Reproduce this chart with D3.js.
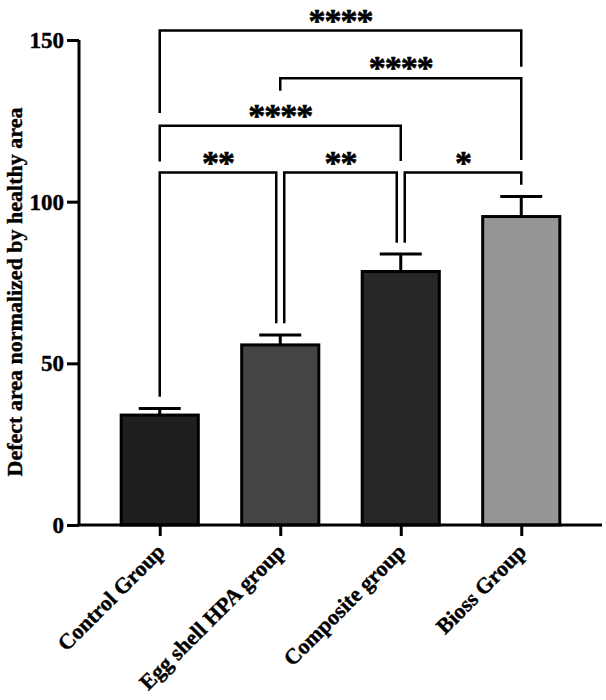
<!DOCTYPE html>
<html>
<head>
<meta charset="utf-8">
<script src="https://cdn.jsdelivr.net/npm/d3@7"></script>
<style>
  body { margin: 0; background: #fff; }
  svg { display: block; }
</style>
</head>
<body>
<script>
// ---- data ----
const categories = ["Control Group", "Egg shell HPA group", "Composite group", "Bioss Group"];
const means = [34.0, 55.7, 78.4, 95.4];
const sems = [2.0, 3.1, 5.4, 6.2];
const barColors = ["#1f1f1f", "#444444", "#272727", "#969696"];
const yTicks = [0, 50, 100, 150];
const yLabel = "Defect area normalized by healthy area";
// significance comparisons: group indices, label, bracket height, leg end heights (data units)
const compA = [0, 1, 0, 0, 1, 2];
const compB = [3, 3, 2, 1, 2, 3];
const compLabel = ["****", "****", "****", "**", "**", "*"];
const compY = [152.9, 138.2, 123.5, 109.0, 109.0, 109.0];
const compLegA = [127.4, 134.3, 112.4, 39.7, 62.4, 87.3];
const compLegB = [141.7, 112.9, 112.6, 62.4, 87.3, 105.2];
const compInsetA = [0, 0, 0, 0, 1, 1];
const compInsetB = [0, 0, 0, 1, 1, 0];

// ---- layout ----
const W = 606, H = 700;
const axisX = 79, axisY = 525, axisRight = 602;
const svg = d3.select("body").append("svg").attr("width", W).attr("height", H);

const y = d3.scaleLinear().domain([0, 150]).range([axisY, 40]);
const x = d3.scalePoint().domain(categories).range([axisX, axisRight]).padding(0.67);
const barW = x.step() * 0.64;
const serif = "'Liberation Serif', 'Times New Roman', serif";

// bars
svg.append("g").selectAll("rect").data(categories).join("rect")
  .attr("x", (d) => x(d) - barW / 2)
  .attr("y", (d, i) => y(means[i]))
  .attr("width", barW)
  .attr("height", (d, i) => y(0) - y(means[i]))
  .attr("fill", (d, i) => barColors[i])
  .attr("stroke", "#000")
  .attr("stroke-width", 3);

// error bars (upper only)
const eb = svg.append("g").attr("stroke", "#000").attr("stroke-width", 3);
categories.forEach((c, i) => {
  eb.append("line").attr("x1", x(c)).attr("x2", x(c))
    .attr("y1", y(means[i])).attr("y2", y(means[i] + sems[i]));
  eb.append("line").attr("x1", x(c) - 21).attr("x2", x(c) + 21)
    .attr("y1", y(means[i] + sems[i])).attr("y2", y(means[i] + sems[i]));
});

// y axis
const yAxis = svg.append("g").attr("transform", `translate(${axisX},0)`)
  .call(d3.axisLeft(y).tickValues(yTicks).tickSize(12).tickPadding(3).tickFormat(d3.format("d")));
yAxis.select(".domain").attr("d", `M0,${y(150)}V${axisY}`).attr("stroke-width", 3);
yAxis.selectAll(".tick line").attr("stroke-width", 3);
yAxis.selectAll(".tick text").attr("font-family", serif).attr("font-weight", "bold")
  .attr("font-size", 23).attr("fill", "#000")
  .attr("stroke", "#000").attr("stroke-width", 0.4);

// x axis
const xAxis = svg.append("g").attr("transform", `translate(0,${axisY})`)
  .call(d3.axisBottom(x).tickSize(11).tickFormat(""));
xAxis.select(".domain").attr("d", `M${axisX - 1.5},0H${axisRight}`).attr("stroke-width", 3);
xAxis.selectAll(".tick line").attr("stroke-width", 3);

// x labels rotated
svg.append("g").selectAll("text").data(categories).join("text")
  .attr("transform", (d) => `translate(${x(d) - 5},${axisY + 17}) rotate(-45)`)
  .attr("text-anchor", "end")
  .attr("dy", "0.71em")
  .attr("font-family", serif).attr("font-weight", "bold").attr("font-size", 22)
  .attr("fill", "#000")
  .attr("stroke", "#000").attr("stroke-width", 0.4)
  .text((d) => d);

// y label
svg.append("text")
  .attr("transform", `translate(22,292) rotate(-90)`)
  .attr("text-anchor", "middle")
  .attr("font-family", serif).attr("font-weight", "bold").attr("font-size", 22)
  .attr("fill", "#000")
  .attr("stroke", "#000").attr("stroke-width", 0.4)
  .text(yLabel);

// brackets
const br = svg.append("g");
compA.forEach((a, k) => {
  const xa = x(categories[a]) + (compInsetA[k] ? 4 : 0);
  const xb = x(categories[compB[k]]) - (compInsetB[k] ? 4 : 0);
  const yl = y(compY[k]);
  br.append("path")
    .attr("d", `M${xa},${y(compLegA[k])}V${yl}H${xb}V${y(compLegB[k])}`)
    .attr("fill", "none").attr("stroke", "#000").attr("stroke-width", 2.5);
  br.append("text")
    .attr("x", (xa + xb) / 2)
    .attr("y", yl + 1)
    .attr("text-anchor", "middle")
    .attr("font-family", serif)
    .attr("font-weight", "bold").attr("font-size", 34)
    .attr("letter-spacing", -1)
    .attr("fill", "#000")
    .attr("stroke", "#000").attr("stroke-width", 0.6)
    .text(compLabel[k]);
});
</script>
</body>
</html>
